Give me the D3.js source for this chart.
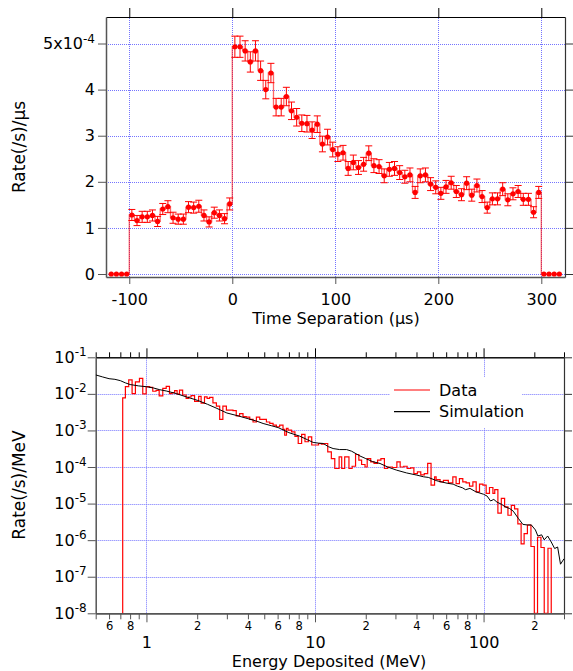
<!DOCTYPE html>
<html>
<head>
<meta charset="utf-8">
<title>Rate vs time separation and energy deposited</title>
<script src="https://cdn.jsdelivr.net/npm/d3@7"></script>
<style>
  body { margin: 0; background: #fff; }
  svg text { font-family: "DejaVu Sans", sans-serif; fill: #000; }
</style>
</head>
<body>
<svg id="chart" width="573" height="671"></svg>
<script>
// ---- top panel: 5 us bins, rate in units of 1e-4 (/s)/us ----
const timeCenters = [-117.5, -112.5, -107.5, -102.5,
  -97.5, -92.5, -87.5, -82.5, -77.5, -72.5, -67.5, -62.5, -57.5, -52.5,
  -47.5, -42.5, -37.5, -32.5, -27.5, -22.5, -17.5, -12.5, -7.5, -2.5,
  2.5, 7.5, 12.5, 17.5, 22.5, 27.5, 32.5, 37.5, 42.5, 47.5,
  52.5, 57.5, 62.5, 67.5, 72.5, 77.5, 82.5, 87.5, 92.5, 97.5,
  102.5, 107.5, 112.5, 117.5, 122.5, 127.5, 132.5, 137.5, 142.5, 147.5,
  152.5, 157.5, 162.5, 167.5, 172.5, 177.5, 182.5, 187.5, 192.5, 197.5,
  202.5, 207.5, 212.5, 217.5, 222.5, 227.5, 232.5, 237.5, 242.5, 247.5,
  252.5, 257.5, 262.5, 267.5, 272.5, 277.5, 282.5, 287.5, 292.5, 297.5,
  302.5, 307.5, 312.5, 317.5];
const timeRates = [0, 0, 0, 0,
  1.28, 1.16, 1.24, 1.24, 1.27, 1.14, 1.41, 1.46, 1.22, 1.19,
  1.19, 1.45, 1.44, 1.47, 1.27, 1.13, 1.33, 1.27, 1.20, 1.52,
  4.93, 4.93, 4.84, 4.60, 4.84, 4.41, 4.00, 4.36, 3.62, 3.62,
  3.85, 3.54, 3.40, 3.27, 3.26, 3.12, 3.25, 2.82, 2.97, 2.70,
  2.60, 2.63, 2.29, 2.42, 2.31, 2.38, 2.62, 2.35, 2.33, 2.13,
  2.27, 2.29, 2.20, 2.11, 2.15, 1.77, 2.13, 2.15, 1.95, 1.88,
  1.75, 1.89, 1.98, 1.79, 1.72, 1.97, 1.71, 1.92, 1.68, 1.44,
  1.63, 1.63, 1.84, 1.61, 1.74, 1.79, 1.62, 1.62, 1.34, 1.77,
  0, 0, 0, 0];
const timeErrors = [0, 0, 0, 0,
  0.12, 0.11, 0.12, 0.12, 0.12, 0.11, 0.12, 0.13, 0.12, 0.11,
  0.11, 0.12, 0.12, 0.13, 0.12, 0.11, 0.12, 0.12, 0.11, 0.13,
  0.23, 0.23, 0.22, 0.22, 0.22, 0.21, 0.20, 0.21, 0.19, 0.19,
  0.20, 0.19, 0.19, 0.18, 0.18, 0.18, 0.18, 0.17, 0.17, 0.16,
  0.16, 0.16, 0.15, 0.16, 0.15, 0.15, 0.16, 0.15, 0.15, 0.15,
  0.15, 0.15, 0.15, 0.14, 0.15, 0.13, 0.15, 0.15, 0.14, 0.14,
  0.13, 0.14, 0.14, 0.13, 0.13, 0.14, 0.13, 0.14, 0.13, 0.12,
  0.13, 0.13, 0.14, 0.13, 0.13, 0.13, 0.13, 0.13, 0.12, 0.13,
  0, 0, 0, 0];
const timeTicks = [-100, 0, 100, 200, 300];
const rateTicks = [0, 1, 2, 3, 4, 5];

// ---- bottom panel: energy spectrum ----
// bin edges (MeV), one more than dataRates
const dataEdges = [0.723, 0.750, 0.785, 0.822, 0.860, 0.909, 0.951, 0.996, 1.045, 1.09,
  1.14, 1.19, 1.25, 1.31, 1.37, 1.42, 1.47, 1.52, 1.57, 1.64,
  1.72, 1.78, 1.84, 1.93, 2.04, 2.11, 2.21, 2.29, 2.37, 2.48,
  2.60, 2.72, 2.84, 2.98, 3.12, 3.26, 3.41, 3.57, 3.74, 3.91,
  4.10, 4.29, 4.49, 4.70, 4.92, 5.15, 5.39, 5.64, 5.90, 6.17,
  6.46, 6.61, 6.77, 6.92, 7.26, 7.60, 7.95, 8.33, 8.72, 9.13,
  9.56, 10.0, 10.5, 10.9, 11.3, 11.9, 12.5, 13.1, 13.9, 14.4,
  15.0, 15.9, 16.6, 17.4, 18.2, 18.9, 19.8, 20.4, 21.4, 22.4,
  23.5, 24.6, 25.8, 27.0, 28.8, 30.6, 32.0, 33.6, 35.2, 36.9,
  38.6, 40.5, 42.4, 44.5, 46.6, 48.8, 51.2, 52.3, 55.2, 57.8,
  61.8, 65.7, 68.7, 71.9, 75.3, 78.8, 82.5, 86.4, 90.4, 94.6,
  99.1, 103.6, 108.4, 113.6, 116.5, 121.6, 127.4, 133.3, 139.5, 146,
  152.7, 159.7, 167, 174, 182, 191, 200, 209, 219, 229,
  241, 252];
const dataRates = [0.0078, 0.0157, 0.024, 0.0102, 0.0214, 0.0266, 0.0100, 0.0157, 0.0150, 0.0118,
  0.0125, 0.0088, 0.0141, 0.0160, 0.0102, 0.0108, 0.0122, 0.0098, 0.0127, 0.0093,
  0.0075, 0.0082, 0.0090, 0.0062, 0.0085, 0.0056, 0.0083, 0.0075, 0.0080, 0.0057,
  0.0046, 0.0020, 0.0046, 0.0036, 0.0036, 0.0035, 0.0025, 0.0029, 0.0024, 0.0023,
  0.0020, 0.0017, 0.0023, 0.0020, 0.0020, 0.0017, 0.00156, 0.0014, 0.00126, 0.0014,
  0.00107, 0.00074, 0.00114, 0.00102, 0.00091, 0.00069, 0.00044, 0.00078, 0.00049, 0.00067,
  0.00040, 0.00040, 0.00044, 0.00042, 0.00044, 0.00026, 0.00017, 0.000091, 0.00019, 0.000091,
  0.00019, 0.000091, 0.000105, 0.00022, 0.000155, 0.000117, 0.00010, 0.00017, 0.000138, 0.000126,
  0.000155, 0.00017, 0.000091, 0.00010, 0.000097, 0.000138, 0.00010, 0.000105, 0.000091, 0.000095,
  0.000066, 0.000074, 0.000061, 0.000066, 0.000126, 0.000032, 0.000054, 0.000045, 0.000039, 0.000043,
  0.000037, 0.000054, 0.000035, 0.000048, 0.000039, 0.000037, 0.000030, 0.000039, 0.000021, 0.000034,
  0.000032, 0.000019, 0.0000275, 0.000019, 0.000024, 0.0000055, 0.0000138, 0.0000081, 0.0000048, 0.0000089,
  0.0000072, 0.0000028, 0.00000079, 0.0000015, 0.0000026, 0.00000067, 0, 0.0000012, 0.00000063, 0,
  0.0000006];
const simEnergy = [0.5, 0.55, 0.6, 0.65, 0.7, 0.75, 0.8, 0.9, 1.0, 1.1,
  1.2, 1.31, 1.5, 1.72, 2.0, 2.3, 2.59, 3.0, 3.5, 4.0,
  4.5, 4.92, 5.5, 6.04, 7.0, 8.1, 9.0, 9.75, 10.5, 11.2,
  12.0, 12.8, 14.0, 15.4, 16.5, 18.5, 20, 22, 24.3, 27,
  30.5, 34.9, 40.2, 44.1, 47, 52.8, 60.8, 66, 69.9, 75,
  78.2, 83, 90, 100, 105, 110, 115, 120, 128, 134,
  143, 150, 161, 171, 182, 192, 203, 210, 221, 229,
  240, 252, 264, 275, 286, 300];
const simRate = [0.033, 0.029, 0.026, 0.025, 0.023, 0.020, 0.018, 0.0165, 0.0157, 0.0145,
  0.013, 0.012, 0.0102, 0.0083, 0.0067, 0.0052, 0.0041, 0.0030, 0.0025, 0.0021,
  0.0018, 0.00155, 0.00135, 0.0012, 0.00087, 0.0007, 0.00056, 0.00047, 0.00045, 0.00044,
  0.00036, 0.00032, 0.0003, 0.0003, 0.00027, 0.0002, 0.00017, 0.00014, 0.000125, 0.0001,
  0.000082, 0.000069, 0.00006, 0.000054, 0.000052, 0.000042, 0.000036, 0.000034, 0.00003, 0.000027,
  0.000024, 0.000026, 0.000021, 0.000018, 0.000016, 0.0000118, 0.000013, 0.000011, 0.0000095, 0.0000082,
  0.0000073, 0.0000062, 0.0000039, 0.0000027, 0.0000026, 0.0000026, 0.0000019, 0.0000013, 0.0000014, 0.00000102,
  0.0000013, 0.00000089, 0.00000059, 0.00000065, 0.00000022, 0.00000031];
const energyMajorTicks = [1, 10, 100];
const energyMinorTicks = [0.5, 0.6, 0.7, 0.8, 0.9, 2, 3, 4, 5, 6, 7, 8, 9,
  20, 30, 40, 50, 60, 70, 80, 90, 200, 300];
const energyMinorLabels = [0.6, 0.8, 2, 4, 6, 8, 20, 40, 60, 80, 200];
const specTicks = [1e-1, 1e-2, 1e-3, 1e-4, 1e-5, 1e-6, 1e-7, 1e-8];

const svg = d3.select("#chart");
const gridColor = "#7474ff";
const axisGray = "#555";
const red = "#ff0000";

// set font + colours on an axis group after d3 has drawn it
function styleAxis(g, color, width, size) {
  g.attr("font-family", null).attr("font-size", size || 16);
  g.select(".domain").attr("stroke", color).attr("stroke-width", width);
  g.selectAll(".tick line").attr("stroke", color);
}

function grid(g, xs, ys, x, y) {
  const [x0, x1] = x.range(), [y0, y1] = y.range();
  g.selectAll(null).data(ys).join("line")
    .attr("x1", x0).attr("x2", x1)
    .attr("y1", d => Math.round(y(d)) + 0.5).attr("y2", d => Math.round(y(d)) + 0.5)
    .attr("stroke", gridColor).attr("stroke-dasharray", "1,1");
  g.selectAll(null).data(xs).join("line")
    .attr("y1", y0).attr("y2", y1)
    .attr("x1", d => Math.round(x(d)) + 0.5).attr("x2", d => Math.round(x(d)) + 0.5)
    .attr("stroke", gridColor).attr("stroke-dasharray", "1,1");
}

/* ================= top panel ================= */
const xT = d3.scaleLinear().domain([-122.6, 323]).range([106, 565]);
const yT = d3.scaleLinear().domain([-0.065, 5.575]).range([277, 17]);
const gTop = svg.append("g");

grid(gTop.append("g"), timeTicks, rateTicks, xT, yT);

gTop.append("g").attr("transform", "translate(0,17)")
  .call(d3.axisTop(xT).tickValues(timeTicks).tickSize(9).tickSizeOuter(0).tickFormat(""))
  .call(g => styleAxis(g, "#000", 1));
gTop.append("g").attr("transform", "translate(565,0)")
  .call(d3.axisRight(yT).tickValues(rateTicks).tickSize(8).tickSizeOuter(0).tickFormat(""))
  .call(g => styleAxis(g, "#333", 1.2));
gTop.append("g").attr("transform", "translate(0,277)")
  .call(d3.axisBottom(xT).tickValues(timeTicks).tickSize(7).tickSizeOuter(0).tickPadding(10)
    .tickFormat(d => String(d)))
  .call(g => styleAxis(g, axisGray, 1.5));
gTop.append("g").attr("transform", "translate(106,0)")
  .call(d3.axisLeft(yT).tickValues(rateTicks).tickSize(8).tickSizeOuter(0).tickPadding(3)
    .tickFormat(d => d === 5 ? "5x10" : String(d)))
  .call(g => styleAxis(g, axisGray, 1.5))
  .call(g => g.selectAll(".tick text").filter(d => d === 5)
    .append("tspan").attr("dy", -6).attr("font-size", 12).text("-4"));

// histogram steps
const binHalf = 2.5;
const stepPts = [];
timeCenters.forEach((t, i) => {
  stepPts.push([t - binHalf, timeRates[i]], [t + binHalf, timeRates[i]]);
});
gTop.append("path")
  .attr("d", d3.line().x(d => xT(d[0])).y(d => yT(d[1]))(stepPts))
  .attr("fill", "none").attr("stroke", red).attr("stroke-opacity", 0.6).attr("stroke-width", 1.3);

// error bars
const errIdx = d3.range(timeCenters.length).filter(i => timeErrors[i] > 0);
const eb = gTop.append("g").attr("stroke", red).attr("stroke-width", 1);
eb.selectAll(".bar").data(errIdx).join("line")
  .attr("x1", i => xT(timeCenters[i])).attr("x2", i => xT(timeCenters[i]))
  .attr("y1", i => yT(timeRates[i] - timeErrors[i])).attr("y2", i => yT(timeRates[i] + timeErrors[i]));
eb.selectAll(".capHi").data(errIdx).join("line")
  .attr("x1", i => xT(timeCenters[i]) - 3.5).attr("x2", i => xT(timeCenters[i]) + 3.5)
  .attr("y1", i => yT(timeRates[i] + timeErrors[i])).attr("y2", i => yT(timeRates[i] + timeErrors[i]));
eb.selectAll(".capLo").data(errIdx).join("line")
  .attr("x1", i => xT(timeCenters[i]) - 3.5).attr("x2", i => xT(timeCenters[i]) + 3.5)
  .attr("y1", i => yT(timeRates[i] - timeErrors[i])).attr("y2", i => yT(timeRates[i] - timeErrors[i]));

gTop.append("g").selectAll("circle").data(timeCenters).join("circle")
  .attr("cx", d => xT(d)).attr("cy", (d, i) => yT(timeRates[i]))
  .attr("r", 2.6).attr("fill", red);

gTop.append("text").attr("transform", "translate(25,147) rotate(-90)")
  .attr("text-anchor", "middle").attr("font-size", 17).text("Rate(/s)/µs");
gTop.append("text").attr("x", 336).attr("y", 324)
  .attr("text-anchor", "middle").attr("font-size", 16).text("Time Separation (µs)");

/* ================= bottom panel ================= */
const xB = d3.scaleLog().domain([0.5, 300]).range([95.7, 564]);
const yB = d3.scaleLog().domain([1e-8, 1e-1]).range([613.3, 357.3]);
const gBot = svg.append("g");

grid(gBot.append("g"), energyMajorTicks, specTicks.slice(1, -1), xB, yB);

// top frame: minor + major ticks
gBot.append("g").attr("transform", "translate(0,357.3)")
  .call(d3.axisTop(xB).tickValues(energyMinorTicks).tickSize(5).tickSizeOuter(0).tickFormat(""))
  .call(g => styleAxis(g, "#000", 1));
gBot.append("g").attr("transform", "translate(0,357.3)")
  .call(d3.axisTop(xB).tickValues(energyMajorTicks).tickSize(9).tickSizeOuter(0).tickFormat(""))
  .call(g => styleAxis(g, "#000", 1));
gBot.append("g").attr("transform", "translate(564,0)")
  .call(d3.axisRight(yB).tickValues(specTicks).tickSize(8).tickSizeOuter(0).tickFormat(""))
  .call(g => styleAxis(g, "#333", 1.2));

// bottom axis: small leading-digit labels on minor ticks, big labels on decades
const leadDigit = d => Math.round(d / Math.pow(10, Math.floor(Math.log10(d) + 1e-9)));
gBot.append("g").attr("transform", "translate(0,613.3)")
  .call(d3.axisBottom(xB).tickValues(energyMinorTicks).tickSize(6).tickSizeOuter(0).tickPadding(3)
    .tickFormat(d => energyMinorLabels.includes(d) ? String(leadDigit(d)) : ""))
  .call(g => styleAxis(g, axisGray, 1.5, 11.5));
gBot.append("g").attr("transform", "translate(0,613.3)")
  .call(d3.axisBottom(xB).tickValues(energyMajorTicks).tickSize(9).tickSizeOuter(0).tickPadding(14)
    .tickFormat(d => String(d)))
  .call(g => styleAxis(g, axisGray, 1.5));

gBot.append("g").attr("transform", "translate(95.7,0)")
  .call(d3.axisLeft(yB).tickValues(specTicks).tickSize(8).tickSizeOuter(0).tickPadding(1)
    .tickFormat(() => "10"))
  .call(g => styleAxis(g, axisGray, 1.5))
  .call(g => g.selectAll(".tick text").append("tspan")
    .attr("dy", -7).attr("font-size", 12).text(d => String(Math.round(Math.log10(d)))));

gBot.append("clipPath").attr("id", "clipB").append("rect")
  .attr("x", 95.7).attr("y", 357.3).attr("width", 564 - 95.7).attr("height", 613.3 - 357.3);

// measured spectrum as a histogram; empty bins drop to the bottom of the frame
const floorRate = 1e-8;
const histPts = [[dataEdges[0], floorRate]];
dataRates.forEach((r, i) => {
  const v = Math.max(r, floorRate);
  histPts.push([dataEdges[i], v], [dataEdges[i + 1], v]);
});
histPts.push([dataEdges[dataEdges.length - 1], floorRate]);

const plotB = gBot.append("g").attr("clip-path", "url(#clipB)");
plotB.append("path")
  .attr("d", d3.line().x(d => xB(d[0])).y(d => yB(d[1]))(histPts))
  .attr("fill", "none").attr("stroke", red).attr("stroke-width", 1.2);
plotB.append("path")
  .attr("d", d3.line().x((d, i) => xB(d)).y((d, i) => yB(simRate[i]))(simEnergy))
  .attr("fill", "none").attr("stroke", "#000").attr("stroke-width", 1);

// legend
const leg = gBot.append("g");
leg.append("rect").attr("x", 390).attr("y", 377).attr("width", 132).attr("height", 51).attr("fill", "#fff");
const legItems = [["Data", red, 390], ["Simulation", "#000", 411.7]];
legItems.forEach(([label, color, y]) => {
  leg.append("line").attr("x1", 394).attr("x2", 430).attr("y1", y).attr("y2", y)
    .attr("stroke", color).attr("stroke-width", 1.2);
  leg.append("text").attr("x", 439).attr("y", y).attr("dy", "0.36em")
    .attr("font-size", 16).text(label);
});

gBot.append("text").attr("transform", "translate(25,485) rotate(-90)")
  .attr("text-anchor", "middle").attr("font-size", 17).text("Rate(/s)/MeV");
gBot.append("text").attr("x", 329).attr("y", 666.5)
  .attr("text-anchor", "middle").attr("font-size", 16).text("Energy Deposited (MeV)");
</script>
</body>
</html>
